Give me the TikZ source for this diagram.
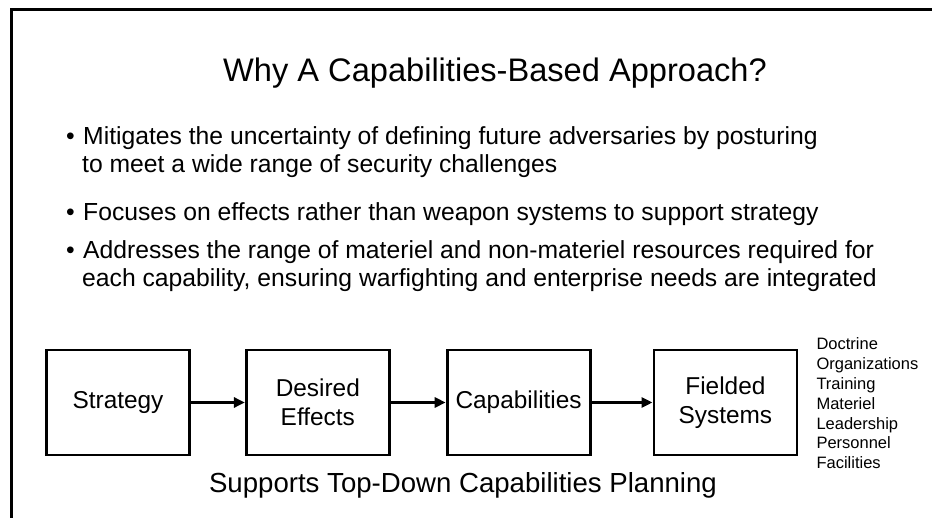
\documentclass[tikz,border=0pt]{standalone}
\usepackage{fontspec}
\setmainfont{Liberation Sans}
\usetikzlibrary{positioning,arrows.meta}

\begin{document}
\begin{tikzpicture}[x=1pt,y=-1pt,
  stagebox/.style={draw, line width=2.8pt, minimum width=143pt, minimum height=105pt, align=center, font=\fontsize{24.4}{29.5}\selectfont},
  flow/.style={-{Triangle[length=11pt,width=10pt]}, line width=3pt},
  bullettext/.style={anchor=base west, align=left, inner sep=0pt, font=\fontsize{24.7}{28}\selectfont}]
\useasboundingbox (0,0) rectangle (932,518);
\draw[line width=3pt] (11,518) -- (11,10) -- (932,10);
\node[anchor=base, font=\fontsize{32.6}{39}\selectfont] (title) at (495,82) {Why A Capabilities-Based Approach?};
\node[bullettext] (mitigates) at (66,173) {\makebox[17pt][l]{•}Mitigates the uncertainty of defining future adversaries by posturing\\\hspace*{16pt}to meet a wide range of security challenges};
\node[bullettext] (focuses) at (66,221) {\makebox[17pt][l]{•}Focuses on effects rather than weapon systems to support strategy};
\node[bullettext] (addresses) at (66,287) {\makebox[17pt][l]{•}Addresses the range of materiel and non-materiel resources required for\\\hspace*{16pt}each capability, ensuring warfighting and enterprise needs are integrated};
\node[stagebox] (strategy) at (118,402.5) {Strategy};
\node[stagebox, right=54pt of strategy] (effects) {Desired\\Effects};
\node[stagebox, right=55pt of effects] (capabilities) {Capabilities};
\node[stagebox, right=61pt of capabilities] (fielded) {Fielded\\Systems};
\draw[flow] (strategy) -- (effects);
\draw[flow] (effects) -- (capabilities);
\draw[flow] (capabilities) -- (fielded);
\node[right=18pt of fielded, yshift=-1pt, align=left, inner sep=0pt, font=\fontsize{16.5}{19.8}\selectfont] (dotmlpf) {Doctrine\\Organizations\\Training\\Materiel\\Leadership\\Personnel\\Facilities};
\node[anchor=base, font=\fontsize{27.6}{33}\selectfont] (caption) at (463,492) {Supports Top-Down Capabilities Planning};
\end{tikzpicture}
\end{document}
